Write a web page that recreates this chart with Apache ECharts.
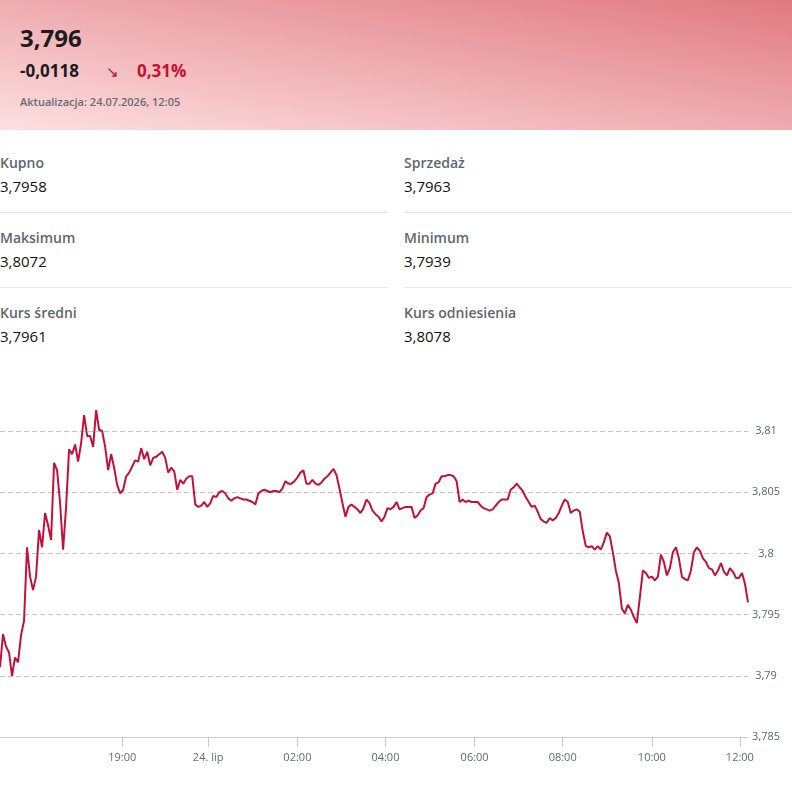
<!DOCTYPE html>
<html lang="pl">
<head>
<meta charset="utf-8">
<title>Kurs</title>
<script src="https://cdn.jsdelivr.net/npm/echarts@6.0.0/dist/echarts.min.js"></script>
<style>
  body { margin: 0; background: #fff; font-family: "Open Sans", "Noto Sans", sans-serif; }
  #page { position: relative; width: 792px; height: 790px; overflow: hidden; }
  #head {
    position: absolute; left: 0; top: 0; width: 792px; height: 130px;
    background: linear-gradient(to top right, #fde0e0 0%, #f0b1b5 45%, #e07a81 100%);
  }
  .abs { position: absolute; white-space: nowrap; }
  #price { left: 20px; top: 22px; font-size: 24px; font-weight: 700; color: #1b1b1b; line-height: 32px; }
  #change { left: 20px; top: 59px; font-size: 17px; font-weight: 700; color: #1b1b1b; line-height: 24px; }
  #arrow { left: 106px; top: 59px; font-size: 15px; color: #c8102e; line-height: 24px; }
  #pct { left: 137px; top: 59px; font-size: 17px; font-weight: 700; color: #c8102e; line-height: 24px; }
  #upd { left: 20px; top: 94px; font-size: 11px; font-weight: 600; color: #6a6a72; line-height: 16px; }
  .lbl { font-size: 14px; font-weight: 600; color: #5e6672; line-height: 20px; }
  .val { font-size: 15px; font-weight: 500; color: #111; line-height: 22px; }
  .sep { position: absolute; height: 1px; background: #e6e6e8; }
  #chart { position: absolute; left: 0; top: 380px; width: 792px; height: 410px; }
</style>
</head>
<body>
<div id="page">
  <div id="head">
    <div id="price" class="abs"></div>
    <div id="change" class="abs"></div>
    <div id="arrow" class="abs">&#8600;</div>
    <div id="pct" class="abs"></div>
    <div id="upd" class="abs"></div>
  </div>
  <div id="stats"></div>
  <div id="chart"></div>
</div>
<script>
// header
const lastPrice = '3,796';
const priceChange = '-0,0118';
const pctChange = '0,31%';
const updated = 'Aktualizacja: 24.07.2026, 12:05';

// stats table, left column then right column
const statLabels = ['Kupno', 'Sprzedaż', 'Maksimum', 'Minimum', 'Kurs średni', 'Kurs odniesienia'];
const statValues = ['3,7958', '3,7963', '3,8072', '3,7939', '3,7961', '3,8078'];

// x ticks sit at positions in the point index (ordinal time axis)
const tickPositions = [40.7, 69.3, 99, 128.3, 158, 187.3, 217, 246.3];
const tickLabels = ['19:00', '24. lip', '02:00', '04:00', '06:00', '08:00', '10:00', '12:00'];

const yMin = 3.785;
const yMax = 3.81;
const yStep = 0.005;

const prices = [
  3.7907, 3.7934, 3.7924, 3.7919, 3.7900, 3.7915, 3.7911, 3.7933, 3.7945, 3.8005,
  3.7981, 3.7970, 3.7981, 3.8019, 3.8005, 3.8033, 3.8023, 3.8011, 3.8074, 3.8068,
  3.8041, 3.8003, 3.8038, 3.8085, 3.8081, 3.8089, 3.8075, 3.8090, 3.8113, 3.8096,
  3.8096, 3.8087, 3.8117, 3.8101, 3.8100, 3.8087, 3.8068, 3.8081, 3.8070, 3.8056,
  3.8049, 3.8052, 3.8063, 3.8066, 3.8071, 3.8076, 3.8075, 3.8086, 3.8077, 3.8083,
  3.8072, 3.8078, 3.8079, 3.8081, 3.8083, 3.8078, 3.8066, 3.8070, 3.8067, 3.8052,
  3.8060, 3.8057, 3.8061, 3.8063, 3.8063, 3.8040, 3.8038,
  3.8039, 3.8042, 3.8038, 3.8041, 3.8047, 3.8046, 3.8050, 3.8051, 3.8049, 3.8045,
  3.8043, 3.8045, 3.8046, 3.8045, 3.8044, 3.8044, 3.8043, 3.8042, 3.8040, 3.8049,
  3.8051, 3.8052, 3.8051, 3.8050, 3.8051, 3.8051, 3.8050, 3.8053, 3.8059, 3.8057,
  3.8057, 3.8059, 3.8062, 3.8066, 3.8068, 3.8057, 3.8057, 3.8060, 3.8057, 3.8056,
  3.8058, 3.8061, 3.8063, 3.8066, 3.8069, 3.8064, 3.8053, 3.8041, 3.8030, 3.8038,
  3.8040, 3.8038, 3.8036, 3.8033, 3.8037, 3.8044, 3.8041, 3.8035, 3.8032, 3.8030,
  3.8026, 3.8030, 3.8037, 3.8036, 3.8038, 3.8042, 3.8036, 3.8037, 3.8038, 3.8038,
  3.8038, 3.8029, 3.8031, 3.8035, 3.8037, 3.8046, 3.8048, 3.8049, 3.8057, 3.8058,
  3.8063, 3.8063, 3.8064, 3.8064, 3.8063, 3.8059, 3.8042, 3.8044, 3.8042, 3.8043,
  3.8042, 3.8042, 3.8042, 3.8039, 3.8037, 3.8036, 3.8035, 3.8036, 3.8039, 3.8042,
  3.8044, 3.8044, 3.8044, 3.8052, 3.8054, 3.8057, 3.8054, 3.8051, 3.8046, 3.8042,
  3.8038, 3.8039, 3.8034, 3.8028, 3.8026, 3.8025, 3.8029, 3.8027, 3.8029, 3.8033,
  3.8039, 3.8044, 3.8042, 3.8033, 3.8035, 3.8036, 3.8034, 3.8018, 3.8006, 3.8005,
  3.8006, 3.8003, 3.8006, 3.8003, 3.8009, 3.8017, 3.8014, 3.8001, 3.7986, 3.7976,
  3.7955, 3.7951, 3.7958, 3.7954, 3.7948, 3.7943, 3.7964, 3.7986, 3.7984, 3.7980,
  3.7981, 3.7978, 3.7981, 3.7999, 3.7993, 3.7982, 3.7988, 3.8001, 3.8005, 3.7996,
  3.7981, 3.7979, 3.7978, 3.7986, 3.8001, 3.8005, 3.8002, 3.7996, 3.7993, 3.7988,
  3.7987, 3.7982, 3.7986, 3.7992, 3.7985, 3.7982, 3.7988, 3.7985, 3.7980, 3.7980,
  3.7984, 3.7975, 3.7960
];

document.getElementById('price').textContent = lastPrice;
document.getElementById('change').textContent = priceChange;
document.getElementById('pct').textContent = pctChange;
document.getElementById('upd').textContent = updated;

// stats grid: two columns, three rows
const stats = document.getElementById('stats');
statLabels.forEach((label, i) => {
  const col = i % 2;
  const row = Math.floor(i / 2);
  const left = col === 0 ? 0 : 404;
  const top = 153 + row * 75;
  const l = document.createElement('div');
  l.className = 'abs lbl';
  l.style.left = left + 'px';
  l.style.top = top + 'px';
  l.textContent = label;
  const v = document.createElement('div');
  v.className = 'abs val';
  v.style.left = left + 'px';
  v.style.top = (top + 22) + 'px';
  v.textContent = statValues[i];
  stats.appendChild(l);
  stats.appendChild(v);
  if (row < 2) {
    const s = document.createElement('div');
    s.className = 'sep';
    s.style.left = left + 'px';
    s.style.top = (top + 59) + 'px';
    s.style.width = '388px';
    stats.appendChild(s);
  }
});

const chart = echarts.init(document.getElementById('chart'));

const fmtY = (v) => String(+v.toFixed(3)).replace('.', ',');

chart.setOption({
  animation: false,
  grid: { left: 0, right: 44, top: 51, bottom: 53, outerBoundsMode: 'none' },
  xAxis: {
    type: 'value',
    min: 0,
    max: prices.length - 1,
    axisLine: { show: true, lineStyle: { color: '#cccccc', width: 1 } },
    axisTick: {
      show: true,
      customValues: tickPositions,
      length: 10,
      lineStyle: { color: '#cccccc' }
    },
    axisLabel: {
      customValues: tickPositions,
      formatter: (v) => tickLabels[tickPositions.indexOf(v)],
      color: '#666a70',
      fontSize: 11,
      fontFamily: 'Open Sans',
      margin: 15
    },
    splitLine: { show: false }
  },
  yAxis: {
    type: 'value',
    position: 'right',
    min: yMin,
    max: yMax,
    interval: yStep,
    axisLine: { show: false },
    axisTick: { show: false },
    axisLabel: {
      formatter: fmtY,
      color: '#5e6670',
      fontSize: 11,
      fontFamily: 'Open Sans',
      align: 'center',
      verticalAlign: 'middle',
      margin: 18,
      padding: [0, 0, 3, 0]
    },
    splitLine: {
      show: true,
      lineStyle: { color: '#c4c4c4', type: [5, 3], width: 1 }
    }
  },
  series: [{
    type: 'line',
    data: prices.map((p, i) => [i, p]),
    showSymbol: false,
    clip: false,
    lineStyle: { color: '#c3123a', width: 2 },
    itemStyle: { color: '#c3123a' }
  }]
});
</script>
</body>
</html>
